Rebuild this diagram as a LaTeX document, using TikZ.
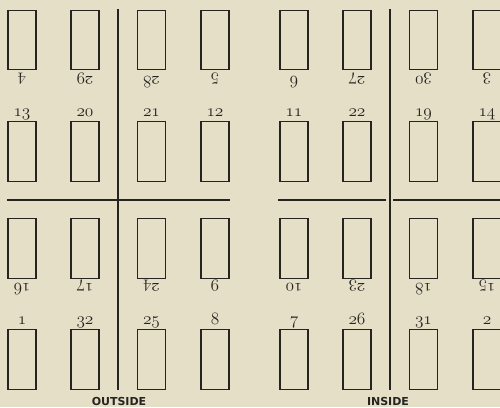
\documentclass[tikz,border=0pt]{standalone}
\usepackage{fontspec}
\newfontfamily\capsfont{DejaVu Sans}
\definecolor{paper}{RGB}{228,223,198}
\definecolor{ink}{RGB}{38,36,32}
\newcommand{\osf}[1]{{\fontencoding{OML}\fontfamily{cmm}\fontseries{m}\fontshape{it}\fontsize{16}{16}\selectfont #1}}
\tikzset{
  page/.style={draw=ink, line width=1.2pt, minimum width=28pt, minimum height=59.5pt, inner sep=0pt},
  num/.style={text=ink, inner sep=0pt, anchor=base},
  flip/.style={num, rotate=180},
  rule/.style={draw=ink, line width=2.2pt},
  side/.style={text=ink, inner sep=0pt, font=\capsfont\bfseries\fontsize{11}{11}\selectfont}
}
\begin{document}
\begin{tikzpicture}[x=1pt,y=-1pt]
\fill[paper] (0,0) rectangle (500,407);
\useasboundingbox (0,0) rectangle (500,407);
\begin{scope}
\clip (0,0) rectangle (500,407);
% row 1 (upside down numbers)
\foreach \n/\x in {4/22,29/85,28/151.5,5/215,6/294,27/357,30/423.5,3/487}{
  \node[page] (p\n) at (\x,40) {};
  \node[flip] (l\n) at ([yshift=-6pt]p\n.south) {\osf{\n}};
}
% row 2
\foreach \n/\x in {13/22,20/85,21/151.5,12/215,11/294,22/357,19/423.5,14/487}{
  \node[page] (p\n) at (\x,151.5) {};
  \node[num] (l\n) at ([yshift=5pt]p\n.north) {\osf{\n}};
}
% row 3 (upside down numbers)
\foreach \n/\x in {16/22,17/85,24/151.5,9/215,10/294,23/357,18/423.5,15/487}{
  \node[page] (p\n) at (\x,248.5) {};
  \node[flip] (l\n) at ([yshift=-5pt]p\n.south) {\osf{\n}};
}
% row 4
\foreach \n/\x in {1/22,32/85,25/151.5,8/215,7/294,26/357,31/423.5,2/487}{
  \node[page] (p\n) at (\x,359.5) {};
  \node[num] (l\n) at ([yshift=5pt]p\n.north) {\osf{\n}};
}
% folding rules
\coordinate (vl1) at (118,9);   \coordinate (vl2) at (118,390);
\coordinate (vr1) at (390,9);   \coordinate (vr2) at (390,390);
\coordinate (hl1) at (7,200);   \coordinate (hl2) at (230,200);
\coordinate (hr1) at (278,200); \coordinate (hr2) at (386,200);
\coordinate (hs1) at (393,200); \coordinate (hs2) at (501,200);
\draw[rule] (vl1) -- (vl2);
\draw[rule] (vr1) -- (vr2);
\draw[rule] (hl1) -- (hl2);
\draw[rule] (hr1) -- (hr2);
\draw[rule] (hs1) -- (hs2);
\node[side] (outside) at (119,401.5) {OUTSIDE};
\node[side] (inside) at (388,401.5) {INSIDE};
\end{scope}
\end{tikzpicture}
\end{document}
